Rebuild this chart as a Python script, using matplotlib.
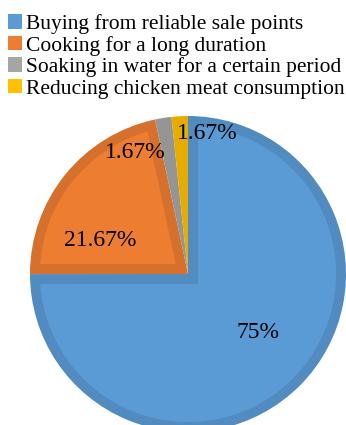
import numpy as np
import matplotlib
matplotlib.use("Agg")
import matplotlib.pyplot as plt
from matplotlib.colors import to_rgb
from matplotlib.patches import Polygon, Patch
from matplotlib.transforms import Bbox

categories = ["Buying from reliable sale points",
              "Cooking for a long duration",
              "Soaking in water for a certain period",
              "Reducing chicken meat consumption"]
values = [75, 21.67, 1.67, 1.67]

colors = ["#5B9BD5", "#ED7D31", "#A5A5A5", "#FFC000"]
label_pos = [(0.443, -0.373), (-0.557, 0.215), (-0.335, 0.772), (0.12, 0.892)]
bevel = 0.063  # inner rim width, as a fraction of the radius

plt.rcdefaults()
plt.rcParams['savefig.bbox'] = 'standard'
plt.rcParams['figure.autolayout'] = False
plt.rcParams['font.family'] = ['Liberation Serif', 'DejaVu Serif']

W, H = 346, 425
fig = plt.figure(figsize=(W / 100, H / 100), dpi=100, layout=None)
cx, cy, r = 188, 425 - 274, 158
ax = fig.add_axes([(cx - r) / W, (cy - r) / H, 2 * r / W, 2 * r / H])

dark_colors = [tuple(v * 0.9 for v in to_rgb(c)) for c in colors]
wedges, _ = ax.pie(values, colors=dark_colors, startangle=90, counterclock=False,
                   radius=1, center=(0, 0), normalize=True,
                   wedgeprops=dict(linewidth=0))
for w in wedges:
    w.set_clip_on(True)
ax.axis('off')

# lighter inner face of each wedge (mitred inset of the wedge outline)
for w, c in zip(wedges, colors):
    t1, t2 = np.radians(w.theta1), np.radians(w.theta2)
    if t2 < t1:
        t1, t2 = t2, t1
    R = w.r
    rho = R - bevel
    delta = np.arcsin(bevel / rho)
    if t2 - t1 <= 2 * delta + 0.02:
        continue
    half = (t2 - t1) / 2
    bis = t1 + half
    a = bevel / np.sin(half)
    apex = (a * np.cos(bis), a * np.sin(bis))
    ang = np.linspace(t1 + delta, t2 - delta, 200)
    pts = [apex] + list(zip(rho * np.cos(ang), rho * np.sin(ang)))
    ax.add_patch(Polygon(pts, closed=True, facecolor=c, edgecolor='none', linewidth=0))

for v, (x, y) in zip(values, label_pos):
    ax.text(x, y, f"{v:g}%", ha='center', va='center', fontsize=17, color='black')

handles = [Patch(facecolor=c, edgecolor='none', linewidth=0) for c in colors]
leg = fig.legend(handles, categories, loc='upper left',
                 bbox_to_anchor=(8 / W, 1 - 14 / H), bbox_transform=fig.transFigure,
                 frameon=False, fontsize=15.5, borderpad=0, borderaxespad=0,
                 handlelength=0.65, handleheight=0.65, handletextpad=0.2,
                 labelspacing=0.08)

ax.set_aspect('auto')
ax.autoscale(False)
ax.set_xlim(-1, 1)
ax.set_ylim(-1, 1)

fig.savefig("out.png", dpi=100,
            bbox_inches=Bbox.from_bounds(0, 0, W / 100, H / 100), pad_inches=0)
